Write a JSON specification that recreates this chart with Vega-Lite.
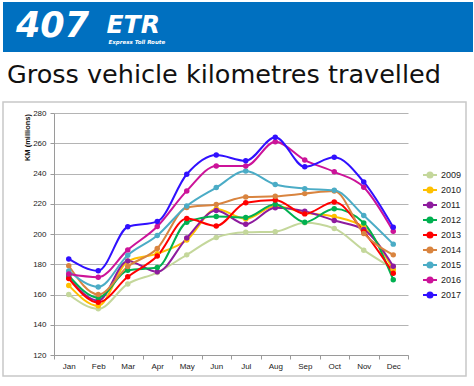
{
  "$schema": "https://vega.github.io/schema/vega-lite/v6.json",
  "padding": {"left": 2, "top": 2, "right": 0, "bottom": 0},
  "background": "white",
  "config": {"view": {"stroke": null}, "font": "Liberation Sans"},
  "bounds": "flush",
  "spacing": 50,
  "datasets": {
    "km": [
      {"year": "2009", "month": "Jan", "km": 160}, {"year": "2009", "month": "Feb", "km": 150.5}, {"year": "2009", "month": "Mar", "km": 167}, {"year": "2009", "month": "Apr", "km": 174.5}, {"year": "2009", "month": "May", "km": 186.2}, {"year": "2009", "month": "Jun", "km": 197.7}, {"year": "2009", "month": "Jul", "km": 201.1}, {"year": "2009", "month": "Aug", "km": 201.5}, {"year": "2009", "month": "Sep", "km": 207.5}, {"year": "2009", "month": "Oct", "km": 203.7}, {"year": "2009", "month": "Nov", "km": 189.3}, {"year": "2009", "month": "Dec", "km": 177},
      {"year": "2010", "month": "Jan", "km": 166}, {"year": "2010", "month": "Feb", "km": 152.5}, {"year": "2010", "month": "Mar", "km": 182}, {"year": "2010", "month": "Apr", "km": 187}, {"year": "2010", "month": "May", "km": 196}, {"year": "2010", "month": "Jun", "km": 216.5}, {"year": "2010", "month": "Jul", "km": 210}, {"year": "2010", "month": "Aug", "km": 218.5}, {"year": "2010", "month": "Sep", "km": 214}, {"year": "2010", "month": "Oct", "km": 211.5}, {"year": "2010", "month": "Nov", "km": 204.4}, {"year": "2010", "month": "Dec", "km": 176.3},
      {"year": "2011", "month": "Jan", "km": 171}, {"year": "2011", "month": "Feb", "km": 156}, {"year": "2011", "month": "Mar", "km": 182.2}, {"year": "2011", "month": "Apr", "km": 175}, {"year": "2011", "month": "May", "km": 197.3}, {"year": "2011", "month": "Jun", "km": 215.5}, {"year": "2011", "month": "Jul", "km": 206.4}, {"year": "2011", "month": "Aug", "km": 217.3}, {"year": "2011", "month": "Sep", "km": 215}, {"year": "2011", "month": "Oct", "km": 208.9}, {"year": "2011", "month": "Nov", "km": 202.9}, {"year": "2011", "month": "Dec", "km": 178.7},
      {"year": "2012", "month": "Jan", "km": 172.5}, {"year": "2012", "month": "Feb", "km": 158}, {"year": "2012", "month": "Mar", "km": 176}, {"year": "2012", "month": "Apr", "km": 177.8}, {"year": "2012", "month": "May", "km": 207.8}, {"year": "2012", "month": "Jun", "km": 211.5}, {"year": "2012", "month": "Jul", "km": 210.9}, {"year": "2012", "month": "Aug", "km": 219.6}, {"year": "2012", "month": "Sep", "km": 207.8}, {"year": "2012", "month": "Oct", "km": 216.7}, {"year": "2012", "month": "Nov", "km": 207.3}, {"year": "2012", "month": "Dec", "km": 169.8},
      {"year": "2013", "month": "Jan", "km": 170.5}, {"year": "2013", "month": "Feb", "km": 154.8}, {"year": "2013", "month": "Mar", "km": 171.7}, {"year": "2013", "month": "Apr", "km": 185.5}, {"year": "2013", "month": "May", "km": 210.2}, {"year": "2013", "month": "Jun", "km": 205.3}, {"year": "2013", "month": "Jul", "km": 220.7}, {"year": "2013", "month": "Aug", "km": 222.5}, {"year": "2013", "month": "Sep", "km": 213.3}, {"year": "2013", "month": "Oct", "km": 221.1}, {"year": "2013", "month": "Nov", "km": 201.5}, {"year": "2013", "month": "Dec", "km": 174},
      {"year": "2014", "month": "Jan", "km": 179}, {"year": "2014", "month": "Feb", "km": 160}, {"year": "2014", "month": "Mar", "km": 178.5}, {"year": "2014", "month": "Apr", "km": 190.4}, {"year": "2014", "month": "May", "km": 217.5}, {"year": "2014", "month": "Jun", "km": 219.5}, {"year": "2014", "month": "Jul", "km": 224.4}, {"year": "2014", "month": "Aug", "km": 224.9}, {"year": "2014", "month": "Sep", "km": 226.7}, {"year": "2014", "month": "Oct", "km": 228.4}, {"year": "2014", "month": "Nov", "km": 200.4}, {"year": "2014", "month": "Dec", "km": 186.2},
      {"year": "2015", "month": "Jan", "km": 175.5}, {"year": "2015", "month": "Feb", "km": 165}, {"year": "2015", "month": "Mar", "km": 186}, {"year": "2015", "month": "Apr", "km": 199}, {"year": "2015", "month": "May", "km": 218.5}, {"year": "2015", "month": "Jun", "km": 230.7}, {"year": "2015", "month": "Jul", "km": 241.7}, {"year": "2015", "month": "Aug", "km": 232.7}, {"year": "2015", "month": "Sep", "km": 230}, {"year": "2015", "month": "Oct", "km": 228.9}, {"year": "2015", "month": "Nov", "km": 212.2}, {"year": "2015", "month": "Dec", "km": 193.3},
      {"year": "2016", "month": "Jan", "km": 173.5}, {"year": "2016", "month": "Feb", "km": 171.4}, {"year": "2016", "month": "Mar", "km": 189.5}, {"year": "2016", "month": "Apr", "km": 205}, {"year": "2016", "month": "May", "km": 228.5}, {"year": "2016", "month": "Jun", "km": 245}, {"year": "2016", "month": "Jul", "km": 245}, {"year": "2016", "month": "Aug", "km": 261}, {"year": "2016", "month": "Sep", "km": 248.9}, {"year": "2016", "month": "Oct", "km": 241.1}, {"year": "2016", "month": "Nov", "km": 230.9}, {"year": "2016", "month": "Dec", "km": 201.8},
      {"year": "2017", "month": "Jan", "km": 183.5}, {"year": "2017", "month": "Feb", "km": 175.7}, {"year": "2017", "month": "Mar", "km": 204.8}, {"year": "2017", "month": "Apr", "km": 208.2}, {"year": "2017", "month": "May", "km": 239.5}, {"year": "2017", "month": "Jun", "km": 252.2}, {"year": "2017", "month": "Jul", "km": 248.4}, {"year": "2017", "month": "Aug", "km": 264}, {"year": "2017", "month": "Sep", "km": 244.4}, {"year": "2017", "month": "Oct", "km": 250.7}, {"year": "2017", "month": "Nov", "km": 234.4}, {"year": "2017", "month": "Dec", "km": 204.4}
    ]
  },
  "vconcat": [
    {
      "width": 470, "height": 50,
      "view": {"fill": "#0070c0", "stroke": null},
      "data": {"values": [{"p": 0}]},
      "mark": {"type": "text"},
      "title": {"text": "407", "anchor": "start", "font": "DejaVu Sans", "fontSize": 35, "fontWeight": "bold", "fontStyle": "italic", "color": "white", "baseline": "top", "offset": -42, "dx": 13, "frame": "group"},
      "encoding": {
        "text": {"value": ""},
        "x": {"field": "p", "type": "quantitative", "scale": {"domain": [0, 1]},
          "axis": {"orient": "top", "title": "ETR", "labels": false, "ticks": false, "domain": false, "grid": false, "titleFont": "DejaVu Sans", "titleFontSize": 25, "titleFontWeight": "bold", "titleFontStyle": "italic", "titleColor": "white", "titleX": 103, "titleY": 30, "titleAlign": "left", "titleBaseline": "alphabetic", "titleAnchor": "start"}},
        "y": {"field": "p", "type": "quantitative", "scale": {"domain": [0, 1]},
          "axis": {"title": "Express Toll Route", "labels": false, "ticks": false, "domain": false, "grid": false, "titleFont": "DejaVu Sans", "titleFontSize": 5.5, "titleFontWeight": "bold", "titleFontStyle": "italic", "titleColor": "white", "titleX": 105, "titleY": 41, "titleAngle": 0, "titleAlign": "left", "titleBaseline": "alphabetic"}}
      }
    },
    {
      "width": 463, "height": 274,
      "view": {"stroke": "#c8c8c8", "strokeWidth": 1.5, "fill": "white"},
      "data": {"name": "km"},
      "title": {"text": "Gross vehicle kilometres travelled", "anchor": "start", "font": "DejaVu Sans", "fontSize": 25.5, "fontWeight": "normal", "color": "#111111", "baseline": "top", "offset": 14, "dx": 4, "frame": "group"},
      "encoding": {
        "x": {
          "field": "month", "type": "ordinal",
          "sort": ["Jan", "Feb", "Mar", "Apr", "May", "Jun", "Jul", "Aug", "Sep", "Oct", "Nov", "Dec"],
          "scale": {"type": "band", "range": [51, 405], "paddingInner": 0, "paddingOuter": 0},
          "axis": {"title": null, "offset": -21, "tickBand": "extent", "labelAngle": 0, "labelFontSize": 8, "labelColor": "#222222", "labelPadding": 3, "tickSize": 4, "domainColor": "#9a9a9a", "tickColor": "#9a9a9a", "grid": false}
        },
        "y": {
          "field": "km", "type": "quantitative",
          "scale": {"domain": [120, 280], "range": [253, 11], "zero": false, "nice": false},
          "axis": {"title": "KM (millions)", "offset": -51, "values": [120, 140, 160, 180, 200, 220, 240, 260, 280], "labelFontSize": 8, "labelColor": "#222222", "labelPadding": 4, "tickSize": 4, "domainColor": "#9a9a9a", "tickColor": "#9a9a9a", "grid": true, "gridColor": "#b4b4b4", "gridWidth": 1, "titleFontSize": 7.5, "titleFontWeight": "bold", "titleColor": "#111111", "titleX": -27, "titleY": 35, "titleAngle": 270, "titleAlign": "center", "titleBaseline": "middle"}
        },
        "color": {
          "field": "year", "type": "nominal",
          "scale": {"domain": ["2009", "2010", "2011", "2012", "2013", "2014", "2015", "2016", "2017"], "range": ["#c4d79b", "#ffc000", "#8e1b9e", "#00b050", "#ff0000", "#d9843f", "#4bacc6", "#cc1399", "#3010ff"]},
          "legend": {"orient": "none", "legendX": 419, "legendY": 165, "title": null, "padding": 0, "symbolType": "M-1,0L1,0M-0.36,0A0.36,0.36 0 1,0 0.36,0A0.36,0.36 0 1,0 -0.36,0Z", "symbolSize": 196, "symbolStrokeWidth": 2, "labelFontSize": 9, "labelColor": "#222222", "labelOffset": 3, "rowPadding": -0.2,
            "encode": {"symbols": {"update": {"fill": {"scale": "color", "field": "value"}, "stroke": {"scale": "color", "field": "value"}, "strokeWidth": {"value": 2}, "opacity": {"value": 1}}}}}
        }
      },
      "layer": [
        {"mark": {"type": "line", "strokeWidth": 2, "interpolate": "monotone"}},
        {"mark": {"type": "circle", "size": 30, "opacity": 1}}
      ]
    }
  ]
}
